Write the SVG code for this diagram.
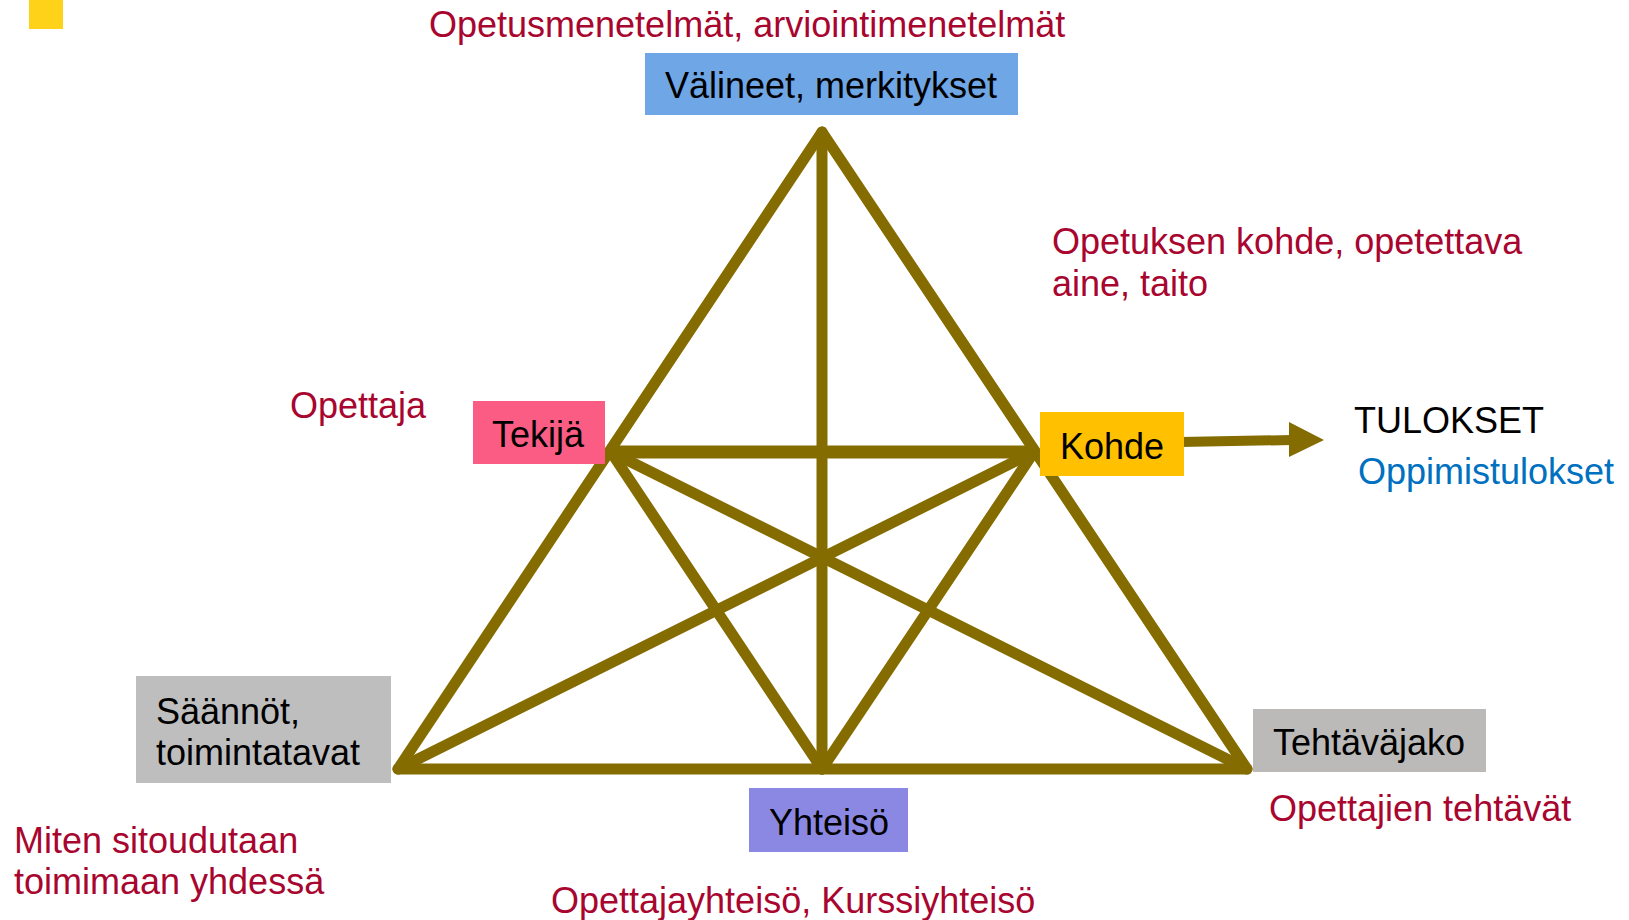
<svg xmlns="http://www.w3.org/2000/svg" width="1629" height="920" viewBox="0 0 1629 920">
<style>
text{font-family:"Liberation Sans",Arial,sans-serif;font-size:36px}
.lbl{fill:#000}
.red{fill:#A8052F}
.blue{fill:#0070C0}
.ln{stroke:#856C00;stroke-width:11;stroke-linecap:round;stroke-linejoin:round;fill:none}
</style>
<rect x="29" y="0" width="34" height="29" fill="#FFD21A"/>
<g id="connectors">
<polygon class="ln" points="822,132 398,769 1247,769"/>
<line class="ln" x1="822" y1="132" x2="822" y2="769"/>
<line class="ln" x1="611" y1="452" x2="1034" y2="452" style="stroke-width:13"/>
<line class="ln" x1="611" y1="452" x2="1247" y2="769"/>
<line class="ln" x1="1034" y1="452" x2="398" y2="769"/>
<line class="ln" x1="611" y1="452" x2="822" y2="769"/>
<line class="ln" x1="1034" y1="452" x2="822" y2="769"/>
<line x1="1180" y1="442" x2="1292" y2="440" stroke="#856C00" stroke-width="10"/>
<polygon points="1289,422 1324,440 1289,457" fill="#856C00"/>
</g>
<g id="node-valineet">
<rect x="645" y="53" width="373" height="62" fill="#6FA6E6"/>
<text class="lbl" x="665" y="98">Välineet, merkitykset</text>
</g>
<g id="node-tekija">
<rect x="473" y="401" width="132" height="63" fill="#FA5C83"/>
<text class="lbl" x="492" y="447">Tekijä</text>
</g>
<g id="node-kohde">
<rect x="1040" y="412" width="144" height="64" fill="#FFC000"/>
<text class="lbl" x="1060" y="459">Kohde</text>
</g>
<g id="node-saannot">
<rect x="136" y="676" width="255" height="107" fill="#BEBEBE"/>
<text class="lbl" x="156" y="724">Säännöt,</text>
<text class="lbl" x="156" y="765">toimintatavat</text>
</g>
<g id="node-yhteiso">
<rect x="749" y="788" width="159" height="64" fill="#8B88E3"/>
<text class="lbl" x="769" y="835">Yhteisö</text>
</g>
<g id="node-tehtavajako">
<rect x="1253" y="709" width="233" height="63" fill="#BBBAB8"/>
<text class="lbl" x="1273" y="755">Tehtäväjako</text>
</g>
<g id="labels">
<text class="red" x="429" y="37">Opetusmenetelmät, arviointimenetelmät</text>
<text class="red" x="1052" y="254">Opetuksen kohde, opetettava</text>
<text class="red" x="1052" y="296">aine, taito</text>
<text class="red" x="290" y="418">Opettaja</text>
<text class="lbl" x="1354" y="433">TULOKSET</text>
<text class="blue" x="1358" y="484">Oppimistulokset</text>
<text class="red" x="1269" y="821">Opettajien tehtävät</text>
<text class="red" x="14" y="853">Miten sitoudutaan</text>
<text class="red" x="14" y="894">toimimaan yhdessä</text>
<text class="red" x="551" y="913">Opettajayhteisö, Kurssiyhteisö</text>
</g>
</svg>
